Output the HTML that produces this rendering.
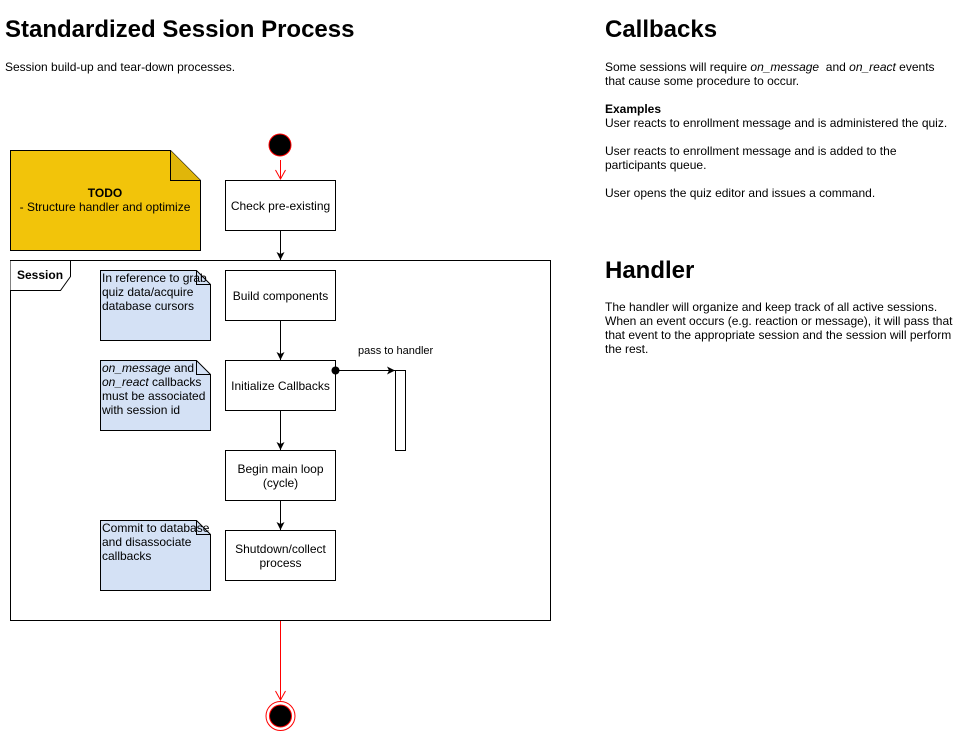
<!DOCTYPE html>
<html><head><style>
body{margin:0;width:961px;height:731px;background:#fff;font-family:"Liberation Sans",Arial,sans-serif;position:relative;overflow:hidden}
.a{position:absolute;color:#000}
h1{position:absolute;margin:0;font-size:24px;font-weight:bold}
.t{font-size:12px;line-height:14px}
</style></head><body>
<h1 style="left:5px;top:16px">Standardized Session Process</h1>
<div class="a t" style="left:5px;top:60px">Session build-up and tear-down processes.</div>
<h1 style="left:605px;top:16px">Callbacks</h1>
<div class="a t" style="left:605px;top:60px;width:350px">Some sessions will require <i>on_message</i>&nbsp; and <i>on_react</i> events that cause some procedure to occur.<br><br><b>Examples</b><br>User reacts to enrollment message and is administered the quiz.<br><br>User reacts to enrollment message and is added to the participants queue.<br><br>User opens the quiz editor and issues a command.</div>
<h1 style="left:605px;top:257px">Handler</h1>
<div class="a t" style="left:605px;top:300px;width:352px">The handler will organize and keep track of all active sessions. When an event occurs (e.g. reaction or message), it will pass that that event to the appropriate session and the session will perform the rest.</div>
<svg class="a" style="left:0;top:0" width="961" height="731">
<defs><marker id="ar" markerWidth="10" markerHeight="10" refX="9" refY="5" orient="auto" markerUnits="userSpaceOnUse"><path d="M1,1 L9,5 L1,9 L3,5z" fill="#000"/></marker>
<marker id="rv" markerWidth="12" markerHeight="12" refX="10" refY="6" orient="auto" markerUnits="userSpaceOnUse"><path d="M1,1 L10,6 L1,11" fill="none" stroke="red"/></marker></defs>
<path d="M10.5,150.5 H170.5 L200.5,180.5 V250.5 H10.5Z" fill="#f2c40a" stroke="#000"/>
<path d="M170.5,150.5 V180.5 H200.5" fill="#e0b60a" stroke="#000"/>
<circle cx="280" cy="145" r="11" fill="#000" stroke="red"/>
<line x1="280.5" y1="160" x2="280.5" y2="179" stroke="red" marker-end="url(#rv)"/>
<rect x="225.5" y="180.5" width="110" height="50" fill="#fff" stroke="#000"/>
<line x1="280.5" y1="231" x2="280.5" y2="260" stroke="#000" marker-end="url(#ar)"/>
<rect x="10.5" y="260.5" width="540" height="360" fill="none" stroke="#000"/>
<path d="M10.5,260.5 H70.5 V276.5 L60.5,290.5 H10.5" fill="#fff" stroke="#000"/>
<g fill="#d4e1f5" stroke="#000">
<path d="M100.5,270.5 H196.5 L210.5,284.5 V340.5 H100.5Z"/><path d="M196.5,270.5 V284.5 H210.5" fill="none"/>
<path d="M100.5,360.5 H196.5 L210.5,374.5 V430.5 H100.5Z"/><path d="M196.5,360.5 V374.5 H210.5" fill="none"/>
<path d="M100.5,520.5 H196.5 L210.5,534.5 V590.5 H100.5Z"/><path d="M196.5,520.5 V534.5 H210.5" fill="none"/>
</g>
<g fill="#fff" stroke="#000">
<rect x="225.5" y="270.5" width="110" height="50"/>
<rect x="225.5" y="360.5" width="110" height="50"/>
<rect x="225.5" y="450.5" width="110" height="50"/>
<rect x="225.5" y="530.5" width="110" height="50"/>
<rect x="395.5" y="370.5" width="10" height="80"/>
</g>
<g stroke="#000">
<line x1="280.5" y1="321" x2="280.5" y2="360" marker-end="url(#ar)"/>
<line x1="280.5" y1="411" x2="280.5" y2="450" marker-end="url(#ar)"/>
<line x1="280.5" y1="501" x2="280.5" y2="530" marker-end="url(#ar)"/>
<line x1="335" y1="370.5" x2="395" y2="370.5" marker-end="url(#ar)"/>
</g>
<circle cx="335.5" cy="370.5" r="4" fill="#000"/>
<line x1="280.5" y1="621" x2="280.5" y2="700" stroke="red" marker-end="url(#rv)"/>
<circle cx="280.5" cy="716" r="14.5" fill="#fff" stroke="red"/>
<circle cx="280.5" cy="716" r="11" fill="#000" stroke="red"/>
</svg>
<div class="a t" style="left:10px;top:186px;width:190px;text-align:center"><b>TODO</b><br>- Structure handler and optimize</div>
<div class="a t" style="left:225px;top:199px;width:111px;text-align:center">Check pre-existing</div>
<div class="a t" style="left:17px;top:268px"><b>Session</b></div>
<div class="a t" style="left:102px;top:271px;white-space:nowrap">In reference to grab<br>quiz data/acquire<br>database cursors</div>
<div class="a t" style="left:102px;top:361px;white-space:nowrap"><i>on_message</i> and<br><i>on_react</i> callbacks<br>must be associated<br>with session id</div>
<div class="a t" style="left:102px;top:521px;white-space:nowrap">Commit to database<br>and disassociate<br>callbacks</div>
<div class="a t" style="left:225px;top:289px;width:111px;text-align:center">Build components</div>
<div class="a t" style="left:225px;top:379px;width:111px;text-align:center">Initialize Callbacks</div>
<div class="a t" style="left:225px;top:462px;width:111px;text-align:center">Begin main loop<br>(cycle)</div>
<div class="a t" style="left:225px;top:542px;width:111px;text-align:center">Shutdown/collect<br>process</div>
<div class="a" style="left:358px;top:345px;font-size:11px">pass to handler</div>
</body></html>
